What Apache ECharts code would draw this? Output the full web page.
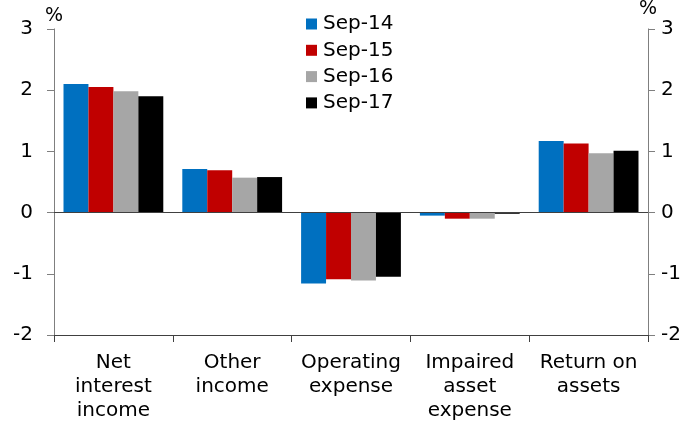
<!DOCTYPE html>
<html>
<head>
<meta charset="utf-8">
<script src="https://cdn.jsdelivr.net/npm/echarts@6/dist/echarts.min.js"></script>
<style>
  html, body { margin: 0; padding: 0; background: #fff; }
  #chart { width: 686px; height: 423px; }
</style>
</head>
<body>
<div id="chart"></div>
<script>
// Bank profitability components, per cent of assets
const categories = ['Net\ninterest\nincome', 'Other\nincome', 'Operating\nexpense', 'Impaired\nasset\nexpense', 'Return on\nassets'];
const seriesNames = ['Sep-14', 'Sep-15', 'Sep-16', 'Sep-17'];
const sep14 = [2.10, 0.71, -1.16, -0.05, 1.17];
const sep15 = [2.05, 0.69, -1.09, -0.10, 1.13];
const sep16 = [1.98, 0.57, -1.11, -0.10, 0.97];
const sep17 = [1.90, 0.58, -1.05, -0.02, 1.01];
const yTicks = { min: -2, max: 3, interval: 1 };

const colors = ['#0070C0', '#C00000', '#A6A6A6', '#000000'];
const values = [sep14, sep15, sep16, sep17];
const font = '"DejaVu Sans", sans-serif';

const yAxisBase = {
  type: 'value',
  min: yTicks.min,
  max: yTicks.max,
  interval: yTicks.interval,
  name: '%',
  nameLocation: 'end',
  nameGap: 3,
  nameTextStyle: { fontSize: 19, color: '#000', fontFamily: font },
  axisLine: { show: true, lineStyle: { color: '#7f7f7f', width: 1 } },
  axisTick: { show: true, length: 7, lineStyle: { color: '#7f7f7f' } },
  splitLine: { show: false },
  axisLabel: { fontSize: 20, color: '#000', fontFamily: font }
};

const chart = echarts.init(document.getElementById('chart'), null, { renderer: 'canvas' });
chart.setOption({
  animation: false,
  color: colors,
  grid: { left: 54, right: 38, top: 28, bottom: 86, containLabel: false },
  legend: {
    orient: 'vertical',
    left: 306,
    top: 14,
    padding: 0,
    itemWidth: 11,
    itemHeight: 11,
    itemGap: 6.3,
    icon: 'rect',
    textStyle: { fontSize: 20, color: '#000', fontFamily: font, padding: [0, 0, 0, 1] },
    data: seriesNames
  },
  xAxis: {
    type: 'category',
    data: categories,
    axisLine: { onZero: false, lineStyle: { color: '#404040', width: 1 } },
    axisTick: { show: true, length: 7, alignWithLabel: false, lineStyle: { color: '#404040' } },
    axisLabel: { fontSize: 20, color: '#000', fontFamily: font, lineHeight: 24, margin: 16, interval: 0 }
  },
  yAxis: [
    Object.assign({}, yAxisBase, { position: 'left', axisLabel: Object.assign({}, yAxisBase.axisLabel, { margin: 21 }) }),
    Object.assign({}, yAxisBase, { position: 'right', axisLabel: Object.assign({}, yAxisBase.axisLabel, { margin: 13 }) })
  ],
  series: seriesNames.map((name, i) => {
    const s = {
      name: name,
      type: 'bar',
      data: values[i],
      barGap: '0%',
      barCategoryGap: '16%',
      itemStyle: { color: colors[i] }
    };
    if (i === 0) {
      s.markLine = {
        silent: true,
        symbol: 'none',
        label: { show: false },
        lineStyle: { color: '#404040', type: 'solid', width: 1 },
        data: [{ yAxis: 0 }]
      };
    }
    return s;
  })
});
</script>
</body>
</html>
